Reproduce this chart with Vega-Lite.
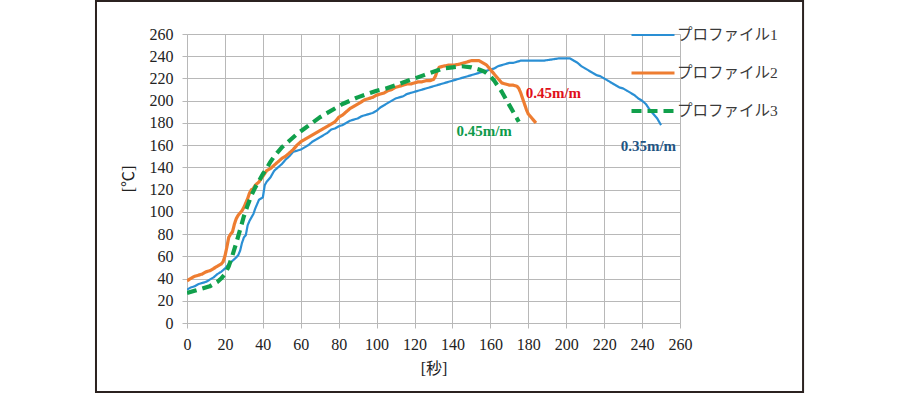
{
  "$schema": "https://vega.github.io/schema/vega-lite/v6.json",
  "width": 493,
  "height": 289,
  "autosize": {"type": "none"},
  "padding": {"left": 187, "top": 34, "right": 220, "bottom": 71},
  "background": "white",
  "config": {
    "view": {"stroke": null},
    "axis": {
      "gridColor": "#b8b8b8",
      "gridWidth": 1,
      "domainColor": "#b8b8b8",
      "tickColor": "#b8b8b8",
      "tickSize": 5,
      "labelFont": "Liberation Serif",
      "labelFontSize": 16,
      "labelColor": "#222222",
      "labelOverlap": false,
      "labelFlush": false,
      "titleFont": "Liberation Serif, Noto Sans CJK JP",
      "titleFontSize": 16,
      "titleFontWeight": "normal",
      "titleColor": "#222222"
    }
  },
  "datasets": {
    "curves": [
      {"s": "プロファイル1", "t": 0, "T": 30}, {"s": "プロファイル1", "t": 2, "T": 32}, {"s": "プロファイル1", "t": 4, "T": 33}, {"s": "プロファイル1", "t": 6, "T": 35}, {"s": "プロファイル1", "t": 8, "T": 36}, {"s": "プロファイル1", "t": 10, "T": 37}, {"s": "プロファイル1", "t": 12, "T": 39}, {"s": "プロファイル1", "t": 14, "T": 41}, {"s": "プロファイル1", "t": 16, "T": 44}, {"s": "プロファイル1", "t": 18, "T": 46}, {"s": "プロファイル1", "t": 20, "T": 49}, {"s": "プロファイル1", "t": 22, "T": 53}, {"s": "プロファイル1", "t": 24, "T": 56}, {"s": "プロファイル1", "t": 26, "T": 59}, {"s": "プロファイル1", "t": 27, "T": 61}, {"s": "プロファイル1", "t": 28, "T": 65}, {"s": "プロファイル1", "t": 29, "T": 72}, {"s": "プロファイル1", "t": 30, "T": 77}, {"s": "プロファイル1", "t": 31, "T": 79}, {"s": "プロファイル1", "t": 32, "T": 88}, {"s": "プロファイル1", "t": 33, "T": 92}, {"s": "プロファイル1", "t": 34, "T": 95}, {"s": "プロファイル1", "t": 35, "T": 98}, {"s": "プロファイル1", "t": 36, "T": 103}, {"s": "プロファイル1", "t": 37, "T": 107}, {"s": "プロファイル1", "t": 38, "T": 111}, {"s": "プロファイル1", "t": 39, "T": 112}, {"s": "プロファイル1", "t": 40, "T": 113}, {"s": "プロファイル1", "t": 41, "T": 124}, {"s": "プロファイル1", "t": 42, "T": 127}, {"s": "プロファイル1", "t": 44, "T": 131}, {"s": "プロファイル1", "t": 46, "T": 137}, {"s": "プロファイル1", "t": 48, "T": 140}, {"s": "プロファイル1", "t": 50, "T": 143}, {"s": "プロファイル1", "t": 52, "T": 147}, {"s": "プロファイル1", "t": 54, "T": 150}, {"s": "プロファイル1", "t": 56, "T": 154}, {"s": "プロファイル1", "t": 58, "T": 155}, {"s": "プロファイル1", "t": 60, "T": 156}, {"s": "プロファイル1", "t": 62, "T": 158}, {"s": "プロファイル1", "t": 64, "T": 160}, {"s": "プロファイル1", "t": 66, "T": 163}, {"s": "プロファイル1", "t": 68, "T": 165}, {"s": "プロファイル1", "t": 70, "T": 167}, {"s": "プロファイル1", "t": 72, "T": 169}, {"s": "プロファイル1", "t": 74, "T": 171}, {"s": "プロファイル1", "t": 76, "T": 174}, {"s": "プロファイル1", "t": 78, "T": 175}, {"s": "プロファイル1", "t": 80, "T": 177}, {"s": "プロファイル1", "t": 82, "T": 178}, {"s": "プロファイル1", "t": 84, "T": 180}, {"s": "プロファイル1", "t": 86, "T": 182}, {"s": "プロファイル1", "t": 88, "T": 183}, {"s": "プロファイル1", "t": 90, "T": 184}, {"s": "プロファイル1", "t": 92, "T": 186}, {"s": "プロファイル1", "t": 94, "T": 187}, {"s": "プロファイル1", "t": 96, "T": 188}, {"s": "プロファイル1", "t": 98, "T": 189}, {"s": "プロファイル1", "t": 100, "T": 191}, {"s": "プロファイル1", "t": 102, "T": 194}, {"s": "プロファイル1", "t": 104, "T": 196}, {"s": "プロファイル1", "t": 106, "T": 198}, {"s": "プロファイル1", "t": 108, "T": 200}, {"s": "プロファイル1", "t": 110, "T": 202}, {"s": "プロファイル1", "t": 112, "T": 203}, {"s": "プロファイル1", "t": 114, "T": 204}, {"s": "プロファイル1", "t": 116, "T": 206}, {"s": "プロファイル1", "t": 118, "T": 207}, {"s": "プロファイル1", "t": 120, "T": 208}, {"s": "プロファイル1", "t": 122, "T": 209}, {"s": "プロファイル1", "t": 124, "T": 210}, {"s": "プロファイル1", "t": 126, "T": 211}, {"s": "プロファイル1", "t": 128, "T": 212}, {"s": "プロファイル1", "t": 130, "T": 213}, {"s": "プロファイル1", "t": 132, "T": 214}, {"s": "プロファイル1", "t": 134, "T": 215}, {"s": "プロファイル1", "t": 136, "T": 216}, {"s": "プロファイル1", "t": 138, "T": 217}, {"s": "プロファイル1", "t": 140, "T": 218}, {"s": "プロファイル1", "t": 142, "T": 219}, {"s": "プロファイル1", "t": 144, "T": 220}, {"s": "プロファイル1", "t": 146, "T": 221}, {"s": "プロファイル1", "t": 148, "T": 222}, {"s": "プロファイル1", "t": 150, "T": 223}, {"s": "プロファイル1", "t": 152, "T": 224}, {"s": "プロファイル1", "t": 154, "T": 225}, {"s": "プロファイル1", "t": 156, "T": 226}, {"s": "プロファイル1", "t": 158, "T": 227}, {"s": "プロファイル1", "t": 160, "T": 228}, {"s": "プロファイル1", "t": 162, "T": 229}, {"s": "プロファイル1", "t": 164, "T": 231}, {"s": "プロファイル1", "t": 166, "T": 232}, {"s": "プロファイル1", "t": 168, "T": 233}, {"s": "プロファイル1", "t": 170, "T": 234}, {"s": "プロファイル1", "t": 172, "T": 234}, {"s": "プロファイル1", "t": 174, "T": 235}, {"s": "プロファイル1", "t": 176, "T": 236}, {"s": "プロファイル1", "t": 180, "T": 236}, {"s": "プロファイル1", "t": 184, "T": 236}, {"s": "プロファイル1", "t": 188, "T": 236}, {"s": "プロファイル1", "t": 192, "T": 237}, {"s": "プロファイル1", "t": 196, "T": 238}, {"s": "プロファイル1", "t": 200, "T": 238}, {"s": "プロファイル1", "t": 202, "T": 238}, {"s": "プロファイル1", "t": 204, "T": 236}, {"s": "プロファイル1", "t": 206, "T": 234}, {"s": "プロファイル1", "t": 208, "T": 231}, {"s": "プロファイル1", "t": 210, "T": 229}, {"s": "プロファイル1", "t": 212, "T": 227}, {"s": "プロファイル1", "t": 214, "T": 225}, {"s": "プロファイル1", "t": 216, "T": 223}, {"s": "プロファイル1", "t": 218, "T": 222}, {"s": "プロファイル1", "t": 220, "T": 220}, {"s": "プロファイル1", "t": 222, "T": 218}, {"s": "プロファイル1", "t": 224, "T": 216}, {"s": "プロファイル1", "t": 226, "T": 214}, {"s": "プロファイル1", "t": 228, "T": 212}, {"s": "プロファイル1", "t": 230, "T": 211}, {"s": "プロファイル1", "t": 232, "T": 209}, {"s": "プロファイル1", "t": 234, "T": 207}, {"s": "プロファイル1", "t": 236, "T": 205}, {"s": "プロファイル1", "t": 238, "T": 202}, {"s": "プロファイル1", "t": 240, "T": 200}, {"s": "プロファイル1", "t": 242, "T": 197}, {"s": "プロファイル1", "t": 244, "T": 192}, {"s": "プロファイル1", "t": 246, "T": 188}, {"s": "プロファイル1", "t": 248, "T": 184}, {"s": "プロファイル1", "t": 250, "T": 178},
      {"s": "プロファイル2", "t": 0, "T": 38}, {"s": "プロファイル2", "t": 2, "T": 40}, {"s": "プロファイル2", "t": 4, "T": 42}, {"s": "プロファイル2", "t": 6, "T": 43}, {"s": "プロファイル2", "t": 8, "T": 44}, {"s": "プロファイル2", "t": 10, "T": 46}, {"s": "プロファイル2", "t": 12, "T": 47}, {"s": "プロファイル2", "t": 14, "T": 49}, {"s": "プロファイル2", "t": 16, "T": 51}, {"s": "プロファイル2", "t": 18, "T": 53}, {"s": "プロファイル2", "t": 19, "T": 55}, {"s": "プロファイル2", "t": 20, "T": 60}, {"s": "プロファイル2", "t": 21, "T": 68}, {"s": "プロファイル2", "t": 22, "T": 77}, {"s": "プロファイル2", "t": 23, "T": 80}, {"s": "プロファイル2", "t": 24, "T": 82}, {"s": "プロファイル2", "t": 25, "T": 89}, {"s": "プロファイル2", "t": 26, "T": 94}, {"s": "プロファイル2", "t": 27, "T": 97}, {"s": "プロファイル2", "t": 28, "T": 99}, {"s": "プロファイル2", "t": 29, "T": 101}, {"s": "プロファイル2", "t": 30, "T": 104}, {"s": "プロファイル2", "t": 31, "T": 108}, {"s": "プロファイル2", "t": 32, "T": 112}, {"s": "プロファイル2", "t": 33, "T": 117}, {"s": "プロファイル2", "t": 34, "T": 120}, {"s": "プロファイル2", "t": 35, "T": 121}, {"s": "プロファイル2", "t": 36, "T": 124}, {"s": "プロファイル2", "t": 38, "T": 127}, {"s": "プロファイル2", "t": 40, "T": 132}, {"s": "プロファイル2", "t": 42, "T": 137}, {"s": "プロファイル2", "t": 44, "T": 139}, {"s": "プロファイル2", "t": 46, "T": 142}, {"s": "プロファイル2", "t": 48, "T": 145}, {"s": "プロファイル2", "t": 50, "T": 148}, {"s": "プロファイル2", "t": 52, "T": 150}, {"s": "プロファイル2", "t": 54, "T": 153}, {"s": "プロファイル2", "t": 56, "T": 156}, {"s": "プロファイル2", "t": 58, "T": 160}, {"s": "プロファイル2", "t": 60, "T": 163}, {"s": "プロファイル2", "t": 62, "T": 165}, {"s": "プロファイル2", "t": 64, "T": 167}, {"s": "プロファイル2", "t": 66, "T": 169}, {"s": "プロファイル2", "t": 68, "T": 171}, {"s": "プロファイル2", "t": 70, "T": 173}, {"s": "プロファイル2", "t": 72, "T": 175}, {"s": "プロファイル2", "t": 74, "T": 177}, {"s": "プロファイル2", "t": 76, "T": 179}, {"s": "プロファイル2", "t": 78, "T": 181}, {"s": "プロファイル2", "t": 80, "T": 185}, {"s": "プロファイル2", "t": 82, "T": 187}, {"s": "プロファイル2", "t": 84, "T": 190}, {"s": "プロファイル2", "t": 86, "T": 193}, {"s": "プロファイル2", "t": 88, "T": 195}, {"s": "プロファイル2", "t": 90, "T": 197}, {"s": "プロファイル2", "t": 92, "T": 199}, {"s": "プロファイル2", "t": 94, "T": 201}, {"s": "プロファイル2", "t": 96, "T": 202}, {"s": "プロファイル2", "t": 98, "T": 203}, {"s": "プロファイル2", "t": 100, "T": 205}, {"s": "プロファイル2", "t": 102, "T": 206}, {"s": "プロファイル2", "t": 104, "T": 207}, {"s": "プロファイル2", "t": 106, "T": 209}, {"s": "プロファイル2", "t": 108, "T": 210}, {"s": "プロファイル2", "t": 110, "T": 212}, {"s": "プロファイル2", "t": 112, "T": 213}, {"s": "プロファイル2", "t": 114, "T": 214}, {"s": "プロファイル2", "t": 116, "T": 215}, {"s": "プロファイル2", "t": 118, "T": 215}, {"s": "プロファイル2", "t": 120, "T": 216}, {"s": "プロファイル2", "t": 122, "T": 217}, {"s": "プロファイル2", "t": 124, "T": 217}, {"s": "プロファイル2", "t": 126, "T": 218}, {"s": "プロファイル2", "t": 128, "T": 218}, {"s": "プロファイル2", "t": 130, "T": 219}, {"s": "プロファイル2", "t": 131, "T": 222}, {"s": "プロファイル2", "t": 132, "T": 227}, {"s": "プロファイル2", "t": 133, "T": 230}, {"s": "プロファイル2", "t": 135, "T": 231}, {"s": "プロファイル2", "t": 138, "T": 232}, {"s": "プロファイル2", "t": 141, "T": 232}, {"s": "プロファイル2", "t": 144, "T": 233}, {"s": "プロファイル2", "t": 146, "T": 234}, {"s": "プロファイル2", "t": 148, "T": 235}, {"s": "プロファイル2", "t": 150, "T": 236}, {"s": "プロファイル2", "t": 152, "T": 236}, {"s": "プロファイル2", "t": 154, "T": 236}, {"s": "プロファイル2", "t": 156, "T": 234}, {"s": "プロファイル2", "t": 158, "T": 232}, {"s": "プロファイル2", "t": 160, "T": 228}, {"s": "プロファイル2", "t": 162, "T": 224}, {"s": "プロファイル2", "t": 164, "T": 220}, {"s": "プロファイル2", "t": 166, "T": 216}, {"s": "プロファイル2", "t": 168, "T": 215}, {"s": "プロファイル2", "t": 170, "T": 214}, {"s": "プロファイル2", "t": 172, "T": 214}, {"s": "プロファイル2", "t": 174, "T": 213}, {"s": "プロファイル2", "t": 175, "T": 211}, {"s": "プロファイル2", "t": 176, "T": 207}, {"s": "プロファイル2", "t": 177, "T": 202}, {"s": "プロファイル2", "t": 178, "T": 197}, {"s": "プロファイル2", "t": 179, "T": 192}, {"s": "プロファイル2", "t": 180, "T": 188}, {"s": "プロファイル2", "t": 182, "T": 184}, {"s": "プロファイル2", "t": 184, "T": 180},
      {"s": "プロファイル3", "t": 0, "T": 27}, {"s": "プロファイル3", "t": 4, "T": 29}, {"s": "プロファイル3", "t": 8, "T": 31}, {"s": "プロファイル3", "t": 12, "T": 33}, {"s": "プロファイル3", "t": 16, "T": 37}, {"s": "プロファイル3", "t": 18, "T": 40}, {"s": "プロファイル3", "t": 20, "T": 44}, {"s": "プロファイル3", "t": 22, "T": 51}, {"s": "プロファイル3", "t": 24, "T": 61}, {"s": "プロファイル3", "t": 26, "T": 72}, {"s": "プロファイル3", "t": 28, "T": 84}, {"s": "プロファイル3", "t": 30, "T": 96}, {"s": "プロファイル3", "t": 32, "T": 106}, {"s": "プロファイル3", "t": 34, "T": 115}, {"s": "プロファイル3", "t": 36, "T": 122}, {"s": "プロファイル3", "t": 38, "T": 128}, {"s": "プロファイル3", "t": 40, "T": 134}, {"s": "プロファイル3", "t": 42, "T": 139}, {"s": "プロファイル3", "t": 44, "T": 145}, {"s": "プロファイル3", "t": 46, "T": 150}, {"s": "プロファイル3", "t": 48, "T": 154}, {"s": "プロファイル3", "t": 50, "T": 158}, {"s": "プロファイル3", "t": 54, "T": 164}, {"s": "プロファイル3", "t": 58, "T": 170}, {"s": "プロファイル3", "t": 62, "T": 175}, {"s": "プロファイル3", "t": 66, "T": 180}, {"s": "プロファイル3", "t": 70, "T": 185}, {"s": "プロファイル3", "t": 74, "T": 189}, {"s": "プロファイル3", "t": 78, "T": 193}, {"s": "プロファイル3", "t": 82, "T": 197}, {"s": "プロファイル3", "t": 86, "T": 200}, {"s": "プロファイル3", "t": 90, "T": 203}, {"s": "プロファイル3", "t": 95, "T": 206}, {"s": "プロファイル3", "t": 100, "T": 209}, {"s": "プロファイル3", "t": 105, "T": 211}, {"s": "プロファイル3", "t": 110, "T": 214}, {"s": "プロファイル3", "t": 115, "T": 217}, {"s": "プロファイル3", "t": 120, "T": 220}, {"s": "プロファイル3", "t": 125, "T": 223}, {"s": "プロファイル3", "t": 130, "T": 226}, {"s": "プロファイル3", "t": 135, "T": 229}, {"s": "プロファイル3", "t": 140, "T": 230}, {"s": "プロファイル3", "t": 145, "T": 231}, {"s": "プロファイル3", "t": 150, "T": 230}, {"s": "プロファイル3", "t": 154, "T": 228}, {"s": "プロファイル3", "t": 157, "T": 226}, {"s": "プロファイル3", "t": 160, "T": 222}, {"s": "プロファイル3", "t": 162, "T": 218}, {"s": "プロファイル3", "t": 164, "T": 213}, {"s": "プロファイル3", "t": 166, "T": 208}, {"s": "プロファイル3", "t": 168, "T": 202}, {"s": "プロファイル3", "t": 170, "T": 196}, {"s": "プロファイル3", "t": 172, "T": 190}, {"s": "プロファイル3", "t": 174, "T": 184}, {"s": "プロファイル3", "t": 175, "T": 181}
    ]
  },
  "layer": [
    {
      "data": {"name": "curves"},
      "mark": {"type": "line", "strokeJoin": "round", "strokeCap": "butt", "clip": true},
      "encoding": {
        "x": {
          "field": "t", "type": "quantitative",
          "scale": {"domain": [0, 260], "nice": false, "zero": false},
          "axis": {
            "values": [0, 20, 40, 60, 80, 100, 120, 140, 160, 180, 200, 220, 240, 260],
            "tickCount": 14,
            "labelFont": "Liberation Serif", "labelFontSize": 16, "labelOverlap": false, "labelFlush": false,
            "title": "[秒]",
            "labelPadding": 8,
            "titleX": 246.5, "titleY": 45.5, "titleBaseline": "middle", "titleAlign": "center"
          }
        },
        "y": {
          "field": "T", "type": "quantitative",
          "scale": {"domain": [0, 260], "nice": false, "zero": false},
          "axis": {
            "values": [0, 20, 40, 60, 80, 100, 120, 140, 160, 180, 200, 220, 240, 260],
            "tickCount": 14,
            "labelFont": "Liberation Serif", "labelFontSize": 16, "labelOverlap": false, "labelFlush": false,
            "title": "[℃]",
            "labelPadding": 9,
            "titleX": -58.5, "titleY": 144.5, "titleAngle": -90, "titleBaseline": "middle", "titleAlign": "center"
          }
        },
        "color": {
          "field": "s", "type": "nominal",
          "scale": {"domain": ["プロファイル1", "プロファイル2", "プロファイル3"], "range": ["#2a8fd4", "#ee7d31", "#11a04c"]},
          "legend": {
            "orient": "none", "legendX": 442, "legendY": -22, "title": null,
            "symbolType": "stroke", "symbolSize": 1849, "labelOffset": 0,
            "labelFont": "Liberation Serif, Noto Sans CJK JP", "labelFontSize": 15.5, "labelColor": "#3a3a3a",
            "rowPadding": 5.5, "padding": 0
          }
        },
        "strokeDash": {
          "field": "s", "type": "nominal",
          "scale": {"domain": ["プロファイル1", "プロファイル2", "プロファイル3"], "range": [[1, 0], [1, 0], [10, 6]]}
        },
        "strokeWidth": {
          "field": "s", "type": "nominal",
          "scale": {"domain": ["プロファイル1", "プロファイル2", "プロファイル3"], "range": [2.2, 4.2, 5]}
        }
      }
    },
    {
      "data": {"values": [{}]},
      "mark": {"type": "rect", "fill": "transparent", "stroke": "#2b2220", "strokeWidth": 2, "clip": false},
      "encoding": {
        "x": {"datum": -48, "type": "quantitative", "scale": {"domain": [0, 260], "nice": false, "zero": false},
          "axis": {"values": [0, 20, 40, 60, 80, 100, 120, 140, 160, 180, 200, 220, 240, 260], "tickCount": 14, "labelFont": "Liberation Serif", "labelFontSize": 16, "labelOverlap": false, "labelFlush": false, "title": "[秒]", "labelPadding": 8, "titleX": 246.5, "titleY": 45.5, "titleBaseline": "middle", "titleAlign": "center"}},
        "x2": {"datum": 324.9},
        "y": {"datum": 289.7, "type": "quantitative", "scale": {"domain": [0, 260], "nice": false, "zero": false},
          "axis": {"values": [0, 20, 40, 60, 80, 100, 120, 140, 160, 180, 200, 220, 240, 260], "tickCount": 14, "labelFont": "Liberation Serif", "labelFontSize": 16, "labelOverlap": false, "labelFlush": false, "title": "[℃]", "labelPadding": 9, "titleX": -58.5, "titleY": 144.5, "titleAngle": -90, "titleBaseline": "middle", "titleAlign": "center"}},
        "y2": {"datum": -62.1}
      }
    },
    {
      "data": {"values": [{"label": "0.45m/m", "t": 193.2, "T": 206.7}]},
      "mark": {"type": "text", "font": "Liberation Serif", "fontSize": 15, "fontWeight": "bold", "color": "#e0101a", "baseline": "middle", "align": "center"},
      "encoding": {
        "x": {"field": "t", "type": "quantitative", "scale": {"domain": [0, 260], "nice": false, "zero": false},
          "axis": {"values": [0, 20, 40, 60, 80, 100, 120, 140, 160, 180, 200, 220, 240, 260], "tickCount": 14, "labelFont": "Liberation Serif", "labelFontSize": 16, "labelOverlap": false, "labelFlush": false, "title": "[秒]", "labelPadding": 8, "titleX": 246.5, "titleY": 45.5, "titleBaseline": "middle", "titleAlign": "center"}},
        "y": {"field": "T", "type": "quantitative", "scale": {"domain": [0, 260], "nice": false, "zero": false},
          "axis": {"values": [0, 20, 40, 60, 80, 100, 120, 140, 160, 180, 200, 220, 240, 260], "tickCount": 14, "labelFont": "Liberation Serif", "labelFontSize": 16, "labelOverlap": false, "labelFlush": false, "title": "[℃]", "labelPadding": 9, "titleX": -58.5, "titleY": 144.5, "titleAngle": -90, "titleBaseline": "middle", "titleAlign": "center"}},
        "text": {"field": "label"}
      }
    },
    {
      "data": {"values": [{"label": "0.45m/m", "t": 156.7, "T": 172.9}]},
      "mark": {"type": "text", "font": "Liberation Serif", "fontSize": 15, "fontWeight": "bold", "color": "#0e9a4a", "baseline": "middle", "align": "center"},
      "encoding": {
        "x": {"field": "t", "type": "quantitative", "scale": {"domain": [0, 260], "nice": false, "zero": false},
          "axis": {"values": [0, 20, 40, 60, 80, 100, 120, 140, 160, 180, 200, 220, 240, 260], "tickCount": 14, "labelFont": "Liberation Serif", "labelFontSize": 16, "labelOverlap": false, "labelFlush": false, "title": "[秒]", "labelPadding": 8, "titleX": 246.5, "titleY": 45.5, "titleBaseline": "middle", "titleAlign": "center"}},
        "y": {"field": "T", "type": "quantitative", "scale": {"domain": [0, 260], "nice": false, "zero": false},
          "axis": {"values": [0, 20, 40, 60, 80, 100, 120, 140, 160, 180, 200, 220, 240, 260], "tickCount": 14, "labelFont": "Liberation Serif", "labelFontSize": 16, "labelOverlap": false, "labelFlush": false, "title": "[℃]", "labelPadding": 9, "titleX": -58.5, "titleY": 144.5, "titleAngle": -90, "titleBaseline": "middle", "titleAlign": "center"}},
        "text": {"field": "label"}
      }
    },
    {
      "data": {"values": [{"label": "0.35m/m", "t": 243.3, "T": 159.4}]},
      "mark": {"type": "text", "font": "Liberation Serif", "fontSize": 15, "fontWeight": "bold", "color": "#1f5584", "baseline": "middle", "align": "center"},
      "encoding": {
        "x": {"field": "t", "type": "quantitative", "scale": {"domain": [0, 260], "nice": false, "zero": false},
          "axis": {"values": [0, 20, 40, 60, 80, 100, 120, 140, 160, 180, 200, 220, 240, 260], "tickCount": 14, "labelFont": "Liberation Serif", "labelFontSize": 16, "labelOverlap": false, "labelFlush": false, "title": "[秒]", "labelPadding": 8, "titleX": 246.5, "titleY": 45.5, "titleBaseline": "middle", "titleAlign": "center"}},
        "y": {"field": "T", "type": "quantitative", "scale": {"domain": [0, 260], "nice": false, "zero": false},
          "axis": {"values": [0, 20, 40, 60, 80, 100, 120, 140, 160, 180, 200, 220, 240, 260], "tickCount": 14, "labelFont": "Liberation Serif", "labelFontSize": 16, "labelOverlap": false, "labelFlush": false, "title": "[℃]", "labelPadding": 9, "titleX": -58.5, "titleY": 144.5, "titleAngle": -90, "titleBaseline": "middle", "titleAlign": "center"}},
        "text": {"field": "label"}
      }
    }
  ]
}
